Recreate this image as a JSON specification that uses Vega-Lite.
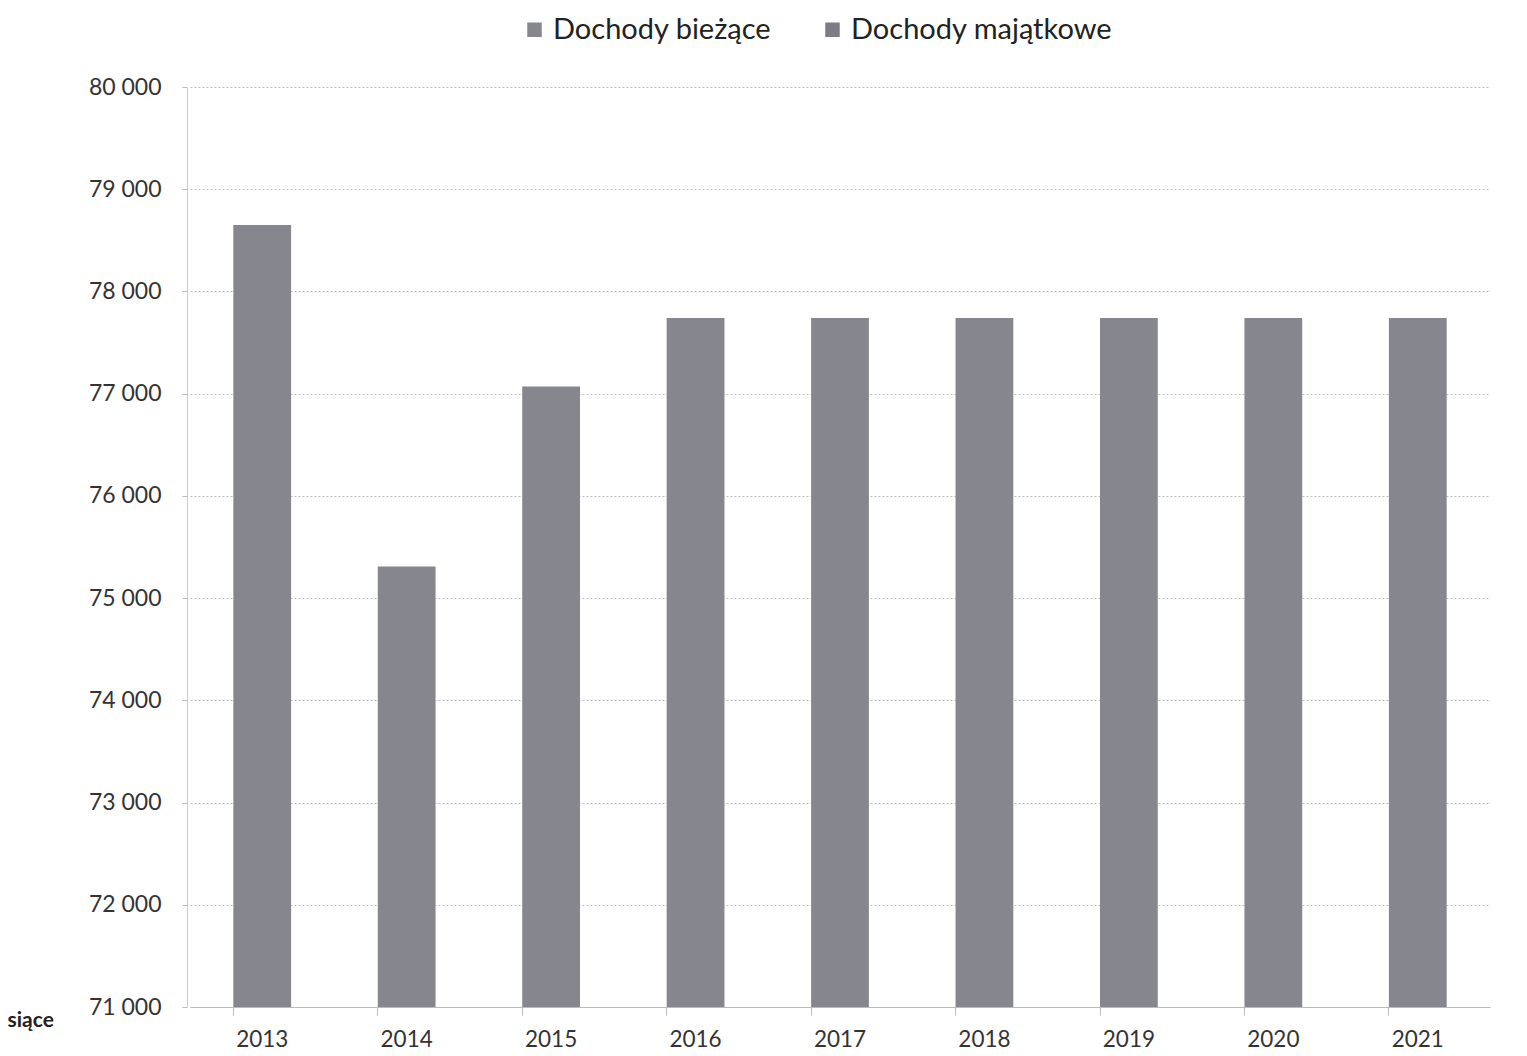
{
  "$schema": "https://vega.github.io/schema/vega-lite/v6.json",
  "autosize": {"type": "none"},
  "width": 1340,
  "height": 920,
  "padding": {"left": 187, "top": 87, "right": 0, "bottom": 49},
  "background": "white",
  "config": {
    "view": {"stroke": null},
    "font": "Lato"
  },
  "data": {
    "values": [
      {"rok": "2013", "seria": "Dochody bieżące", "wartosc": 78650},
      {"rok": "2014", "seria": "Dochody bieżące", "wartosc": 75310},
      {"rok": "2015", "seria": "Dochody bieżące", "wartosc": 77070},
      {"rok": "2016", "seria": "Dochody bieżące", "wartosc": 77740},
      {"rok": "2017", "seria": "Dochody bieżące", "wartosc": 77740},
      {"rok": "2018", "seria": "Dochody bieżące", "wartosc": 77740},
      {"rok": "2019", "seria": "Dochody bieżące", "wartosc": 77740},
      {"rok": "2020", "seria": "Dochody bieżące", "wartosc": 77740},
      {"rok": "2021", "seria": "Dochody bieżące", "wartosc": 77740}
    ]
  },
  "mark": {"type": "bar", "clip": true},
  "encoding": {
    "x": {
      "field": "rok",
      "type": "nominal",
      "sort": null,
      "scale": {"paddingInner": 0.6, "paddingOuter": 0.3, "range": [3, 1303]},
      "axis": {
        "title": null,
        "labelAngle": 0,
        "labelFont": "Lato",
        "labelFontSize": 22.5,
        "labelColor": "#333",
        "labelPadding": 13,
        "bandPosition": 0,
        "tickColor": "#bbb",
        "tickSize": 8,
        "domainColor": "#bbb",
        "grid": false
      }
    },
    "y": {
      "field": "wartosc",
      "type": "quantitative",
      "stack": "zero",
      "scale": {"domain": [71000, 80000], "zero": false, "nice": false},
      "axis": {
        "values": [71000, 72000, 73000, 74000, 75000, 76000, 77000, 78000, 79000, 80000],
        "labelExpr": "replace(format(datum.value, ',d'), ',', ' ')",
        "labelFont": "Lato",
        "labelFontSize": 23,
        "labelColor": "#333",
        "labelPadding": 21,
        "tickColor": "#bbb",
        "tickSize": 5,
        "domainColor": "#ccc",
        "gridColor": "#bbb",
        "gridDash": [2, 2],
        "gridWidth": 1,
        "title": "siące",
        "titleAngle": 0,
        "titleX": -180,
        "titleY": 933,
        "titleAlign": "left",
        "titleBaseline": "middle",
        "titleFont": "Lato",
        "titleFontSize": 21,
        "titleFontWeight": "bold",
        "titleColor": "#222"
      }
    },
    "color": {
      "field": "seria",
      "type": "nominal",
      "scale": {
        "domain": ["Dochody bieżące", "Dochody majątkowe"],
        "range": ["#86868f", "#7c7c88"]
      },
      "legend": {
        "title": null,
        "orient": "none",
        "direction": "horizontal",
        "legendX": 333,
        "legendY": -72,
        "symbolType": "square",
        "symbolSize": 210,
        "symbolStrokeWidth": 0,
        "labelFont": "Lato",
        "labelFontSize": 29,
        "labelColor": "#222",
        "columnPadding": 46,
        "labelLimit": 400
      }
    }
  }
}
